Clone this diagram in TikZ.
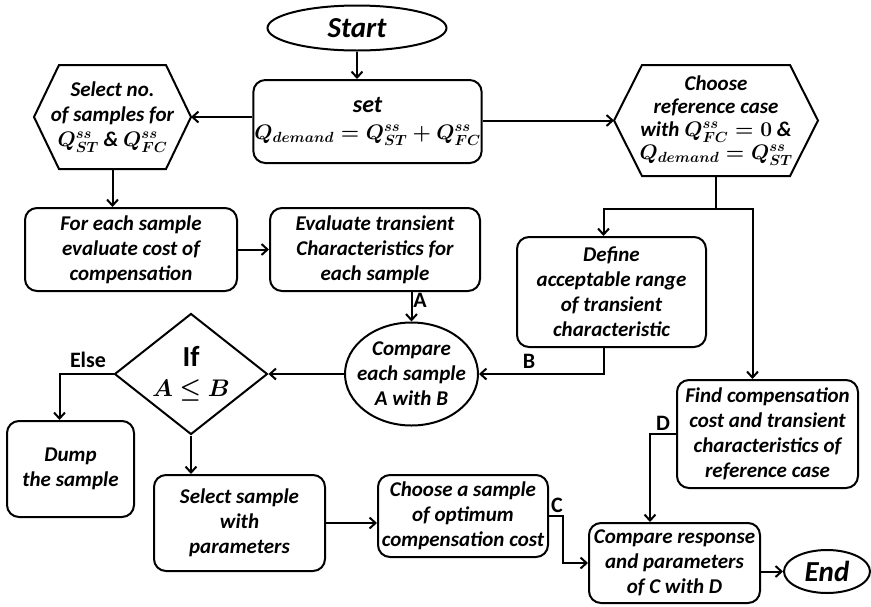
\RequirePackage{fix-cm}
\documentclass[tikz,border=0pt]{standalone}
\usepackage{amsmath,bm}
\usepackage{fontspec}
\setmainfont{Carlito}
\usetikzlibrary{shapes.geometric,arrows.meta}
\newcommand{\qss}[1]{\bm{Q^{ss}_{#1}}}

\begin{document}
\begin{tikzpicture}[x=1pt,y=-1pt,line width=2pt,
  >={Straight Barb[length=6pt,width=11pt]},
  txt/.style={font=\fontsize{21}{25}\selectfont\bfseries\itshape\boldmath},
  box/.style={draw,rounded corners=12pt,align=center,inner sep=1pt,txt},
  hexa/.style={align=center,inner sep=0pt,txt},
  oval/.style={draw,ellipse,align=center,inner sep=0pt,txt},
  lbl/.style={font=\fontsize{22}{24}\selectfont\bfseries}]
\useasboundingbox (0,0) rectangle (871,606);

% top row
\node[oval,minimum width=179pt,minimum height=45pt,font=\fontsize{29}{30}\selectfont\bfseries\itshape] (start) at (357,28) {Start};
\node[box,minimum width=211pt,minimum height=83pt] (set) at (367.5,121.5) {{\fontsize{24}{26}\selectfont set}\\[2pt] $\bm{Q_{demand}}=\qss{ST}+\qss{FC}$};
\node[hexa,minimum width=155pt,minimum height=102pt] (sel) at (112.5,117) {Select no.\\ of samples for\\ $\qss{ST}$ \& $\qss{FC}$};
\node[hexa,minimum width=202pt,minimum height=109pt,font=\fontsize{21}{23}\selectfont\bfseries\itshape\boldmath] (choose) at (716,120.5) {Choose\\ reference case\\ with $\qss{FC}=\bm{0}$ \&\\ $\bm{Q_{demand}}=\qss{ST}$};
\draw (sel.west) -- ([xshift=25pt]sel.north west) -- ([xshift=-25pt]sel.north east) -- (sel.east) -- ([xshift=-25pt]sel.south east) -- ([xshift=25pt]sel.south west) -- cycle;
\draw (choose.west) -- ([xshift=28pt]choose.north west) -- ([xshift=-28pt]choose.north east) -- (choose.east) -- ([xshift=-28pt]choose.south east) -- ([xshift=28pt]choose.south west) -- cycle;

% middle
\node[box,minimum width=212pt,minimum height=83pt] (each) at (131,249.5) {For each sample\\ evaluate cost of\\ compensation};
\node[box,minimum width=210pt,minimum height=83pt] (eval) at (375,249.5) {Evaluate transient\\ Characteristics for\\ each sample};
\node[box,minimum width=189pt,minimum height=110pt] (define) at (611.5,292) {Define\\ acceptable range\\ of transient\\ characteristic};
\node[box,minimum width=181pt,minimum height=108pt] (find) at (767.5,434) {Find compensation\\ cost and transient\\ characteristics of\\ reference case};
\node[oval,minimum width=133pt,minimum height=103pt,inner sep=-12pt] (cmp) at (411.5,374) {Compare\\ each sample\\ A with B};
\node[draw,diamond,shape aspect=1.3,inner sep=0pt,minimum width=153pt,minimum height=121pt,align=center,font=\fontsize{29}{30}\selectfont\bfseries] (iff) at (191,374) {If\\ {\fontsize{24}{26}\selectfont$\bm{A\le B}$}};

% bottom
\node[box,minimum width=127pt,minimum height=96pt] (dump) at (70.5,469) {Dump\\ the sample};
\node[box,minimum width=171pt,minimum height=96pt] (selS) at (239.5,523) {Select sample\\ with\\ parameters};
\node[box,minimum width=170pt,minimum height=82pt] (opt) at (463,516) {Choose a sample\\ of optimum\\ compensation cost};
\node[box,minimum width=171pt,minimum height=80pt] (resp) at (674.5,563) {Compare response\\ and parameters\\ of C with D};
\node[oval,minimum width=86pt,minimum height=43pt,font=\fontsize{29}{30}\selectfont\bfseries\itshape] (end) at (827,571.5) {End};

% connectors
\draw[->] (start.south) -- (start.south |- set.north);
\draw[->] (set.west |- sel.east) -- (sel.east);
\draw[->] (set.east |- choose.west) -- (choose.west);
\draw[->] (sel.south) -- (sel.south |- each.north);
\draw[->] (each.east) -- (eval.west);
\draw (choose.south) -- ++(0,33) coordinate (split);
\draw[->] (split) -| ([xshift=-8pt]define.north);
\draw[->] (split) -| ([xshift=-15pt]find.north);
\draw[->] (cmp.north |- eval.south) -- (cmp.north);
\node[lbl] (la) at (420,300) {A};
\draw[->] ([xshift=-8pt]define.south) |- (cmp.east);
\node[lbl] (lb) at (529,361) {B};
\draw[->] (cmp.west) -- (iff.east);
\draw[->] (iff.west) -| ([xshift=-11pt]dump.north);
\node[lbl] (lelse) at (88,360) {Else};
\draw[->] (iff.south) -- (iff.south |- selS.north);
\draw[->] (selS.east) -- (selS.east -| opt.west);
\draw[->] (opt.east) -- ++(14,0) |- (resp.west);
\node[lbl] (lc) at (557,505) {C};
\draw[->] (find.west) -| ([xshift=-24.5pt]resp.north);
\node[lbl] (ld) at (663,423) {D};
\draw[->] (resp.east |- end.west) -- (end.west);
\end{tikzpicture}
\end{document}
